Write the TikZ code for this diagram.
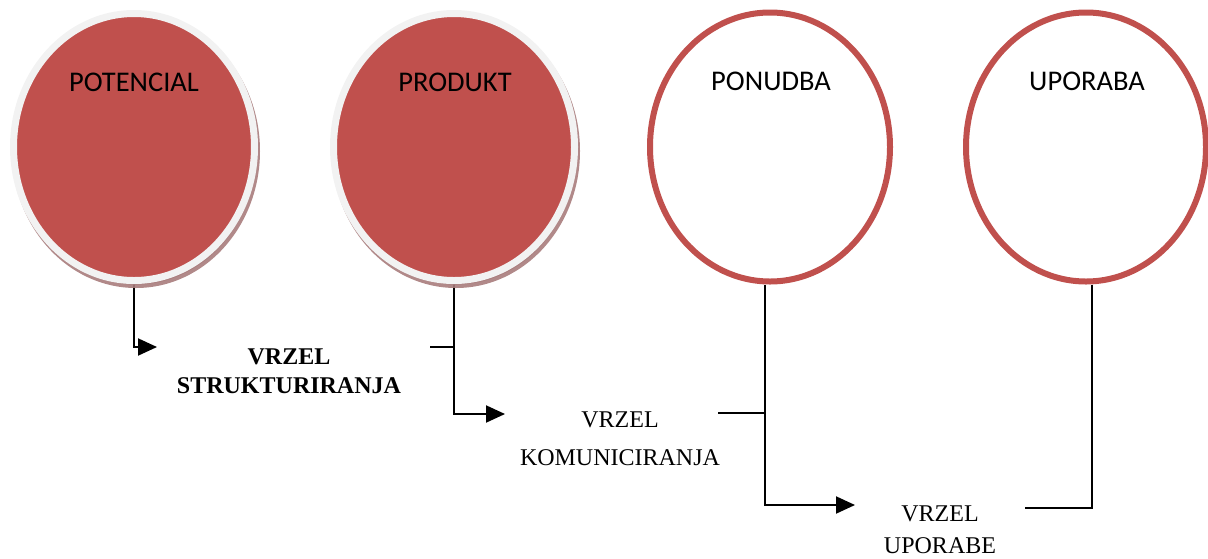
\documentclass[tikz,border=0pt]{standalone}
\usepackage{fontspec}
\setmainfont{Liberation Serif}
\newfontfamily\calibrifont{Carlito}
\usetikzlibrary{arrows.meta,positioning,shapes.geometric,shadows,backgrounds}
\definecolor{gapred}{HTML}{C0504D}
\definecolor{ringgrey}{HTML}{F2F2F2}
\definecolor{shadebrown}{HTML}{A87C7C}

\begin{document}
\begin{tikzpicture}[x=1pt,y=-1pt,
    fullcirc/.style={ellipse,draw=ringgrey,line width=7pt,fill=gapred,minimum width=241pt,minimum height=267pt,inner sep=0pt,
      drop shadow={shadow xshift=2pt,shadow yshift=-4pt,fill=shadebrown,draw=shadebrown,line width=7pt,opacity=.9}},
    opencirc/.style={ellipse,draw=gapred,line width=6pt,fill=white,minimum width=240pt,minimum height=269pt,inner sep=0pt},
    circlbl/.style={font=\calibrifont\fontsize{28.5}{34}\selectfont,inner sep=0pt,anchor=north},
    gaptext/.style={align=center,inner sep=0pt,anchor=north},
    conn/.style={line width=2pt},
    arr/.style={conn,-{Triangle[length=19pt,width=17pt]}}]
  \useasboundingbox (0,0) rectangle (1208,558);
  % four stages
  \node[fullcirc] (potencial) at (134,147) {};
  \node[fullcirc] (produkt) at (454,147) {};
  \node[opencirc] (ponudba) at (770,147) {};
  \node[opencirc] (uporaba) at (1086,147) {};
  \node[circlbl] (potencialtxt) at (134,73) {POTENCIAL};
  \node[circlbl] (produkttxt) at (455,73) {PRODUKT};
  \node[circlbl] (ponudbatxt) at (771,72) {PONUDBA};
  \node[circlbl] (uporabatxt) at (1087,72) {UPORABA};
  % gaps
  \node[gaptext,font=\bfseries\fontsize{24}{29}\selectfont] (strukt) at (289,349) {VRZEL\\STRUKTURIRANJA};
  \node[gaptext,font=\fontsize{24}{38}\selectfont] (komun) at (620,412) {VRZEL\\KOMUNICIRANJA};
  \node[gaptext,font=\fontsize{24}{32}\selectfont] (upor) at (940,506) {VRZEL\\UPORABE};
  \coordinate (struktin) at (157,347);
  \coordinate (komunin) at (505,414);
  \coordinate (uporin) at (855,505);
  \coordinate (uporout) at (1025,508);
  \coordinate (struktout) at (430,347);
  \coordinate (komunout) at (718,413);
  \coordinate (ponudbafoot) at ([xshift=-5pt]ponudba.south);
  \coordinate (uporabafoot) at ([xshift=6pt]uporaba.south);
  \begin{scope}[on background layer]
    \draw[arr] (potencial.south) |- (struktin);
    \draw[arr] (produkt.south) |- (komunin);
    \draw[conn] (struktout) -- (struktout -| produkt.south);
    \draw[arr] (ponudbafoot) |- (uporin);
    \draw[conn] (komunout) -- (komunout -| ponudbafoot);
    \draw[conn] (uporabafoot) |- (uporout);
  \end{scope}
\end{tikzpicture}
\end{document}
